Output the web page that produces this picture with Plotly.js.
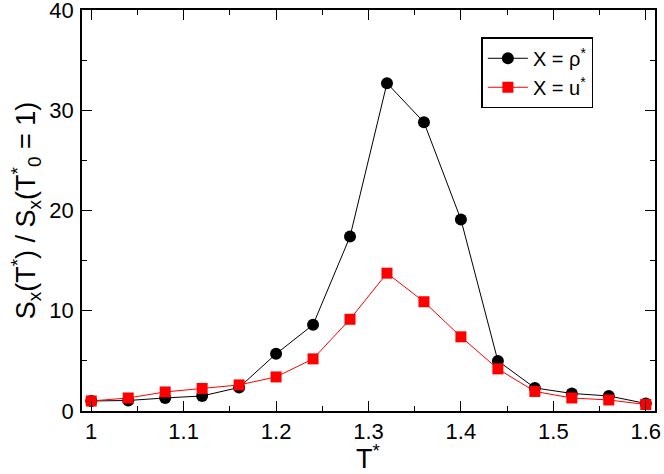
<!DOCTYPE html>
<html>
<head>
<meta charset="utf-8">
<script src="https://cdn.plot.ly/plotly-3.0.1.min.js"></script>
<style>
  html, body { margin: 0; padding: 0; background: #fff; }
  #plot { width: 664px; height: 474px; }
</style>
</head>
<body>
<div id="plot"></div>
<script>
// temperatures T*
let temperature = [1.0, 1.04, 1.08, 1.12, 1.16, 1.2, 1.24, 1.28, 1.32, 1.36, 1.4, 1.44, 1.48, 1.52, 1.56, 1.6];
// ratio for X = rho*
let ratio_rho = [1.0, 1.05, 1.3, 1.5, 2.35, 5.7, 8.6, 17.4, 32.7, 28.8, 19.1, 5.0, 2.3, 1.75, 1.5, 0.75];
// ratio for X = u*
let ratio_u = [1.0, 1.3, 1.9, 2.25, 2.6, 3.4, 5.2, 9.15, 13.75, 10.9, 7.4, 4.2, 1.95, 1.3, 1.1, 0.65];
// tick labels
let y_ticks = [0, 10, 20, 30, 40];
let y_tick_labels = ["0", "10", "20", "30", "40"];

let font_family = "Liberation Sans, Arial, sans-serif";

let trace_rho = {
  x: temperature,
  y: ratio_rho,
  mode: "lines+markers",
  type: "scatter",
  name: "X = ρ<sup>*</sup>",
  line: { color: "#000000", width: 1 },
  marker: { symbol: "circle", size: 12, color: "#000000" },
};

let trace_u = {
  x: temperature,
  y: ratio_u,
  mode: "lines+markers",
  type: "scatter",
  name: "X = u<sup>*</sup>",
  line: { color: "#ff0000", width: 1 },
  marker: { symbol: "square", size: 11, color: "#ff0000" },
};

let axis_common = {
  showline: true,
  linecolor: "#000000",
  linewidth: 1.5,
  mirror: "ticks",
  ticks: "inside",
  ticklen: 10,
  tickwidth: 1,
  tickcolor: "#000000",
  showgrid: false,
  zeroline: false,
  tickfont: { family: font_family, size: 22, color: "#000000" },
};

var layout = {
  width: 664,
  height: 474,
  margin: { l: 82, r: 9, t: 10, b: 63 },
  paper_bgcolor: "#ffffff",
  plot_bgcolor: "#ffffff",
  showlegend: true,
  legend: {
    x: 0.697,
    y: 0.932,
    xanchor: "left",
    yanchor: "top",
    bgcolor: "#ffffff",
    bordercolor: "#000000",
    borderwidth: 1.5,
    font: { family: font_family, size: 20, color: "#000000" },
    itemwidth: 40,
    tracegroupgap: 2,
  },
  // x axis title as an annotation so it can sit a little lower
  annotations: [
    {
      text: "T<sup>*</sup>",
      xref: "paper",
      yref: "paper",
      x: 0.5,
      y: 0,
      xanchor: "center",
      yanchor: "top",
      yshift: -27,
      showarrow: false,
      font: { family: font_family, size: 27, color: "#000000" },
    },
  ],
  xaxis: Object.assign({}, axis_common, {
    range: [0.99, 1.61],
    dtick: 0.1,
    tick0: 1.0,
    minor: { dtick: 0.05, ticks: "inside", ticklen: 5, tickcolor: "#000000" },
  }),
  yaxis: Object.assign({}, axis_common, {
    range: [0, 40],
    tickmode: "array",
    tickvals: y_ticks,
    ticktext: y_tick_labels,
    minor: { dtick: 5, ticks: "inside", ticklen: 5, tickcolor: "#000000" },
    ticklabeloverflow: "allow",
    ticklabelstandoff: 2,
    title: {
      text: "S<sub>x</sub>(T<sup>*</sup>) / S<sub>x</sub>(T<sup>*</sup><sub>0</sub> = 1)",
      font: { family: font_family, size: 27, color: "#000000" },
      standoff: 6,
    },
  }),
};

Plotly.newPlot("plot", [trace_rho, trace_u], layout, { displayModeBar: false });
</script>
</body>
</html>
